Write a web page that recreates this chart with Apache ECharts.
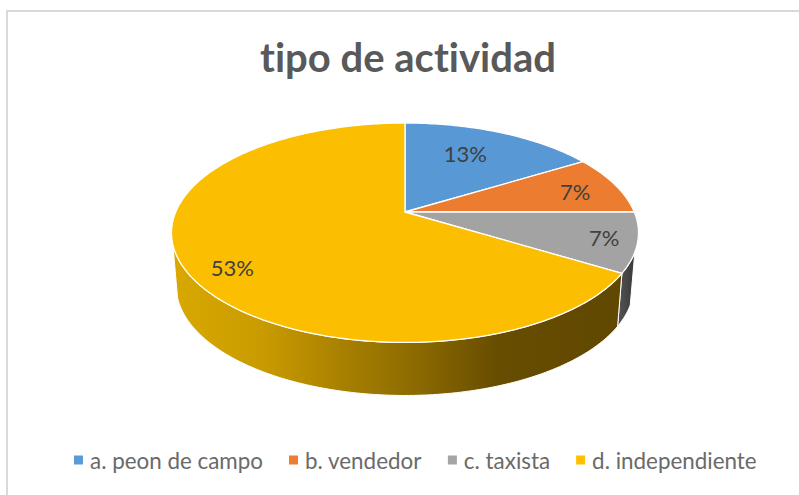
<!DOCTYPE html>
<html>
<head>
<meta charset="utf-8">
<style>html,body{margin:0;padding:0;background:#fff}#c{width:799px;height:495px}#c text{font-variant-ligatures:none}</style>
<script src="https://cdn.jsdelivr.net/npm/echarts@6/dist/echarts.min.js"></script>
</head>
<body>
<div id="c"></div>
<script>
const categories = ['a. peon de campo', 'b. vendedor', 'c. taxista', 'd. independiente'];
const values = [13, 7, 7, 53];
const titleText = 'tipo de actividad';

const colors = ['#5B9BD5', '#ED7D31', '#A5A5A5', '#FFC000'];
const topColors = ['#5898D4', '#EB7C30', '#A3A3A3', '#FBBE00'];
const FONT = 'Lato, "Noto Sans", sans-serif';
// projective view of the disc
const view = {x0: 405, y0: 212, a: 229.3, b: 105.8, k: 0.189, wallDy: 53, wallScale: 0.98, visFrom: 110.7, visTo: 253};
const labelNudge = [[-10, -1], [21, -1], [39, 5], [-23, 17]];
const wallFills = [
  null, null,
  {type: 'linear', x: 0, y: 0, x2: 1, y2: 0, colorStops: [{offset: 0, color: '#555555'}, {offset: 1, color: '#383838'}]},
  {type: 'linear', x: 0, y: 0, x2: 1, y2: 0, colorStops: [
    {offset: 0, color: '#D9A800'}, {offset: 0.2, color: '#C99B00'}, {offset: 0.4, color: '#A47D00'},
    {offset: 0.55, color: '#8A6900'}, {offset: 0.72, color: '#674D00'}, {offset: 1, color: '#614800'}]}
];

const total = values.reduce((s, v) => s + v, 0);
function project(deg, r) {
  const t = deg * Math.PI / 180, u = r * Math.sin(t), v = r * Math.cos(t), w = 1 + view.k * v;
  return [view.x0 + view.a * u / w, view.y0 - view.b * v / w];
}
function lower(p) {
  return [view.x0 + (p[0] - view.x0) * view.wallScale, p[1] + view.wallDy];
}
function arc(from, to) {
  const pts = [], n = Math.max(2, Math.ceil(Math.abs(to - from)));
  for (let i = 0; i <= n; i++) pts.push(project(from + (to - from) * i / n, 1));
  return pts;
}
function renderSlice(idx) {
  return function (params, api) {
    const val = api.value(0);
    let before = 0;
    for (let i = 0; i < idx; i++) before += values[i];
    const a0 = before / total * 360, a1 = a0 + val / total * 360, mid = (a0 + a1) / 2;
    const children = [];
    const wFrom = Math.max(a0, view.visFrom), wTo = Math.min(a1, view.visTo);
    if (wTo > wFrom && wallFills[idx]) {
      const top = arc(wFrom, wTo);
      const bottom = top.map(lower).reverse();
      children.push({type: 'polygon', shape: {points: top.concat(bottom)},
        style: {fill: wallFills[idx], stroke: '#ffffff', lineWidth: 1}});
    }
    children.push({type: 'polygon', shape: {points: [[view.x0, view.y0]].concat(arc(a0, a1))},
      style: {fill: topColors[idx], stroke: '#ffffff', lineWidth: 1.3}});
    const anchor = project(mid, 0.7);
    children.push({type: 'text', z2: 10, style: {
      text: val + '%', x: anchor[0] + labelNudge[idx][0], y: anchor[1] + labelNudge[idx][1],
      align: 'center', verticalAlign: 'middle', font: '22px ' + FONT, fill: '#404040'}});
    return {type: 'group', children};
  };
}

const chart = echarts.init(document.getElementById('c'), null, {renderer: 'svg'});
chart.setOption({
  animation: false,
  backgroundColor: '#ffffff',
  title: {text: titleText, left: 403, top: 32, textAlign: 'center',
    textStyle: {fontFamily: FONT, fontWeight: 'bold', fontSize: 40, color: '#595959'}},
  legend: {
    data: categories, left: 69, top: 444, icon: 'rect', itemWidth: 9, itemHeight: 9, itemGap: 26,
    selectedMode: false,
    textStyle: {fontFamily: FONT, fontSize: 22.4, color: '#6A6A6A', padding: [0, 0, 0, 2]}
  },
  graphic: [
    {type: 'line', silent: true, shape: {x1: 7, y1: 11, x2: 799, y2: 11}, style: {stroke: '#D9D9D9', lineWidth: 2}},
    {type: 'line', silent: true, shape: {x1: 7, y1: 10, x2: 7, y2: 495}, style: {stroke: '#D9D9D9', lineWidth: 2}}
  ],
  series: categories.map((name, i) => ({
    type: 'custom', name, coordinateSystem: 'none', silent: true,
    itemStyle: {color: colors[i]},
    data: [[values[i]]],
    renderItem: renderSlice(i)
  }))
});
</script>
</body>
</html>
